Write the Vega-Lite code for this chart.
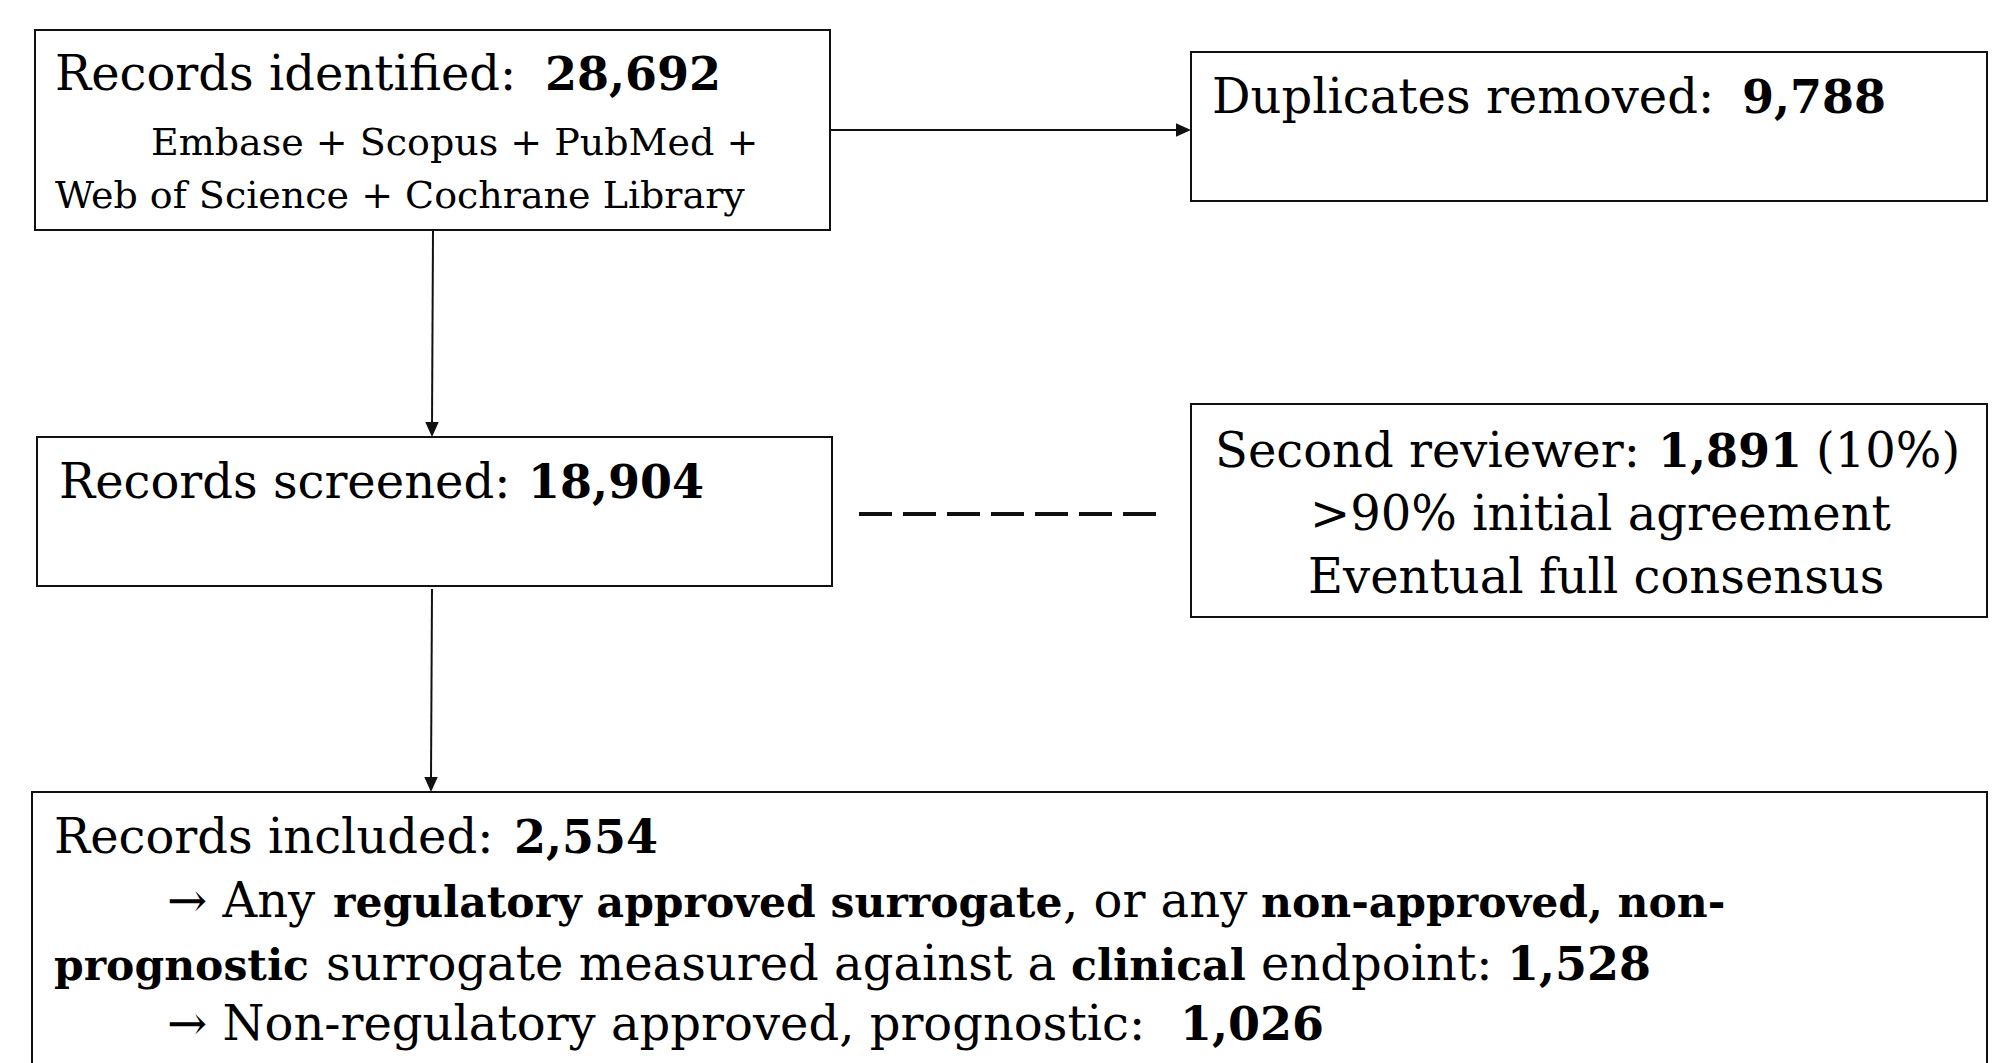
{
  "$schema": "https://vega.github.io/schema/vega-lite/v6.json",
  "width": 2014,
  "height": 1063,
  "autosize": {"type": "fit", "contains": "padding"},
  "padding": 0,
  "background": "white",
  "config": {"view": {"stroke": null}},
  "datasets": {
    "boxes": [
      {"id": "identified", "x0": 35, "x1": 830, "y0": 30, "y1": 230},
      {"id": "duplicates", "x0": 1191, "x1": 1987, "y0": 52, "y1": 201},
      {"id": "screened", "x0": 37, "x1": 832, "y0": 437, "y1": 586},
      {"id": "second", "x0": 1191, "x1": 1987, "y0": 404, "y1": 617},
      {"id": "included", "x0": 32, "x1": 1987, "y0": 792, "y1": 1090}
    ],
    "edges": [
      {"from": "identified", "to": "duplicates", "x0": 830, "x1": 1180, "y0": 130, "y1": 130},
      {"from": "identified", "to": "screened", "x0": 433, "x1": 432, "y0": 230, "y1": 426},
      {"from": "screened", "to": "included", "x0": 432, "x1": 431, "y0": 589, "y1": 781}
    ],
    "dashes": [
      {"from": "screened", "to": "second", "x0": 859, "x1": 1161, "y0": 514, "y1": 514}
    ],
    "heads": [
      {"to": "duplicates", "dir": "right", "x": 1191, "y": 130},
      {"to": "screened", "dir": "down", "x": 432, "y": 437},
      {"to": "included", "dir": "down", "x": 431, "y": 792}
    ],
    "texts": [
      {"box": "identified", "line": 1, "x": 55, "y": 90, "role": "label", "text": "Records identified:"},
      {"box": "identified", "line": 1, "x": 545, "y": 90, "role": "count", "text": "28,692"},
      {"box": "identified", "line": 2, "x": 151, "y": 155, "role": "source", "text": "Embase + Scopus + PubMed +"},
      {"box": "identified", "line": 3, "x": 55, "y": 208, "role": "source", "text": "Web of Science + Cochrane Library"},
      {"box": "duplicates", "line": 1, "x": 1212, "y": 113, "role": "label", "text": "Duplicates removed:"},
      {"box": "duplicates", "line": 1, "x": 1742, "y": 113, "role": "count", "text": "9,788"},
      {"box": "screened", "line": 1, "x": 59, "y": 498, "role": "label", "text": "Records screened:"},
      {"box": "screened", "line": 1, "x": 528, "y": 498, "role": "count", "text": "18,904"},
      {"box": "second", "line": 1, "x": 1215, "y": 467, "role": "label", "text": "Second reviewer:"},
      {"box": "second", "line": 1, "x": 1658, "y": 467, "role": "count", "text": "1,891"},
      {"box": "second", "line": 1, "x": 1816, "y": 467, "role": "label", "text": "(10%)"},
      {"box": "second", "line": 2, "x": 1310, "y": 530, "role": "label", "text": ">90% initial agreement"},
      {"box": "second", "line": 3, "x": 1308, "y": 593, "role": "label", "text": "Eventual full consensus"},
      {"box": "included", "line": 1, "x": 54, "y": 853, "role": "label", "text": "Records included:"},
      {"box": "included", "line": 1, "x": 514, "y": 853, "role": "count", "text": "2,554"},
      {"box": "included", "line": 2, "x": 167, "y": 917, "role": "label", "text": "→ Any"},
      {"box": "included", "line": 2, "x": 333, "y": 917, "role": "emphasis", "text": "regulatory approved surrogate"},
      {"box": "included", "line": 2, "x": 1063, "y": 917, "role": "label", "text": ", or any"},
      {"box": "included", "line": 2, "x": 1261, "y": 917, "role": "emphasis", "text": "non-approved, non-"},
      {"box": "included", "line": 3, "x": 54, "y": 980, "role": "emphasis", "text": "prognostic"},
      {"box": "included", "line": 3, "x": 326, "y": 980, "role": "label", "text": "surrogate measured against a"},
      {"box": "included", "line": 3, "x": 1071, "y": 980, "role": "emphasis", "text": "clinical"},
      {"box": "included", "line": 3, "x": 1261, "y": 980, "role": "label", "text": "endpoint:"},
      {"box": "included", "line": 3, "x": 1507, "y": 980, "role": "count", "text": "1,528"},
      {"box": "included", "line": 4, "x": 167, "y": 1040, "role": "label", "text": "→ Non-regulatory approved, prognostic:"},
      {"box": "included", "line": 4, "x": 1180, "y": 1040, "role": "count", "text": "1,026"}
    ]
  },
  "layer": [
    {
      "data": {"name": "boxes"},
      "mark": {"type": "rect", "fill": "white", "stroke": "#111111", "strokeWidth": 2, "clip": true},
      "encoding": {
        "x": {"field": "x0", "type": "quantitative", "scale": {"domain": [0, 2014], "nice": false, "zero": false}, "axis": null},
        "x2": {"field": "x1"},
        "y": {"field": "y0", "type": "quantitative", "scale": {"domain": [0, 1063], "nice": false, "zero": false, "reverse": true}, "axis": null},
        "y2": {"field": "y1"}
      }
    },
    {
      "data": {"name": "edges"},
      "mark": {"type": "rule", "stroke": "#111111", "strokeWidth": 2},
      "encoding": {
        "x": {"field": "x0", "type": "quantitative", "scale": {"domain": [0, 2014], "nice": false, "zero": false}, "axis": null},
        "x2": {"field": "x1"},
        "y": {"field": "y0", "type": "quantitative", "scale": {"domain": [0, 1063], "nice": false, "zero": false, "reverse": true}, "axis": null},
        "y2": {"field": "y1"}
      }
    },
    {
      "data": {"name": "dashes"},
      "mark": {"type": "rule", "stroke": "#111111", "strokeWidth": 4, "strokeDash": [33, 11]},
      "encoding": {
        "x": {"field": "x0", "type": "quantitative", "scale": {"domain": [0, 2014], "nice": false, "zero": false}, "axis": null},
        "x2": {"field": "x1"},
        "y": {"field": "y0", "type": "quantitative", "scale": {"domain": [0, 1063], "nice": false, "zero": false, "reverse": true}, "axis": null},
        "y2": {"field": "y1"}
      }
    },
    {
      "data": {"name": "heads"},
      "mark": {"type": "point", "filled": true, "fill": "#111111", "strokeWidth": 0, "opacity": 1, "size": 225},
      "encoding": {
        "x": {"field": "x", "type": "quantitative", "scale": {"domain": [0, 2014], "nice": false, "zero": false}, "axis": null},
        "y": {"field": "y", "type": "quantitative", "scale": {"domain": [0, 1063], "nice": false, "zero": false, "reverse": true}, "axis": null},
        "shape": {"field": "dir", "type": "nominal", "scale": {"domain": ["right", "down"], "range": ["M0,0L-2,-0.9L-2,0.9Z", "M0,0L-0.9,-2L0.9,-2Z"]}, "legend": null}
      }
    },
    {
      "data": {"name": "texts"},
      "transform": [{"filter": "datum.role === 'label'"}],
      "mark": {"type": "text", "align": "left", "baseline": "alphabetic", "font": "DejaVu Serif", "fontWeight": "normal", "fontSize": 48, "color": "#000000"},
      "encoding": {
        "x": {"field": "x", "type": "quantitative", "scale": {"domain": [0, 2014], "nice": false, "zero": false}, "axis": null},
        "y": {"field": "y", "type": "quantitative", "scale": {"domain": [0, 1063], "nice": false, "zero": false, "reverse": true}, "axis": null},
        "text": {"field": "text"}
      }
    },
    {
      "data": {"name": "texts"},
      "transform": [{"filter": "datum.role === 'source'"}],
      "mark": {"type": "text", "align": "left", "baseline": "alphabetic", "font": "DejaVu Serif", "fontWeight": "normal", "fontSize": 38, "color": "#000000"},
      "encoding": {
        "x": {"field": "x", "type": "quantitative", "scale": {"domain": [0, 2014], "nice": false, "zero": false}, "axis": null},
        "y": {"field": "y", "type": "quantitative", "scale": {"domain": [0, 1063], "nice": false, "zero": false, "reverse": true}, "axis": null},
        "text": {"field": "text"}
      }
    },
    {
      "data": {"name": "texts"},
      "transform": [{"filter": "datum.role === 'emphasis'"}],
      "mark": {"type": "text", "align": "left", "baseline": "alphabetic", "font": "DejaVu Serif", "fontWeight": "bold", "fontSize": 42.5, "color": "#000000"},
      "encoding": {
        "x": {"field": "x", "type": "quantitative", "scale": {"domain": [0, 2014], "nice": false, "zero": false}, "axis": null},
        "y": {"field": "y", "type": "quantitative", "scale": {"domain": [0, 1063], "nice": false, "zero": false, "reverse": true}, "axis": null},
        "text": {"field": "text"}
      }
    },
    {
      "data": {"name": "texts"},
      "transform": [{"filter": "datum.role === 'count'"}],
      "mark": {"type": "text", "align": "left", "baseline": "alphabetic", "font": "DejaVu Serif", "fontWeight": "bold", "fontSize": 46, "color": "#000000"},
      "encoding": {
        "x": {"field": "x", "type": "quantitative", "scale": {"domain": [0, 2014], "nice": false, "zero": false}, "axis": null},
        "y": {"field": "y", "type": "quantitative", "scale": {"domain": [0, 1063], "nice": false, "zero": false, "reverse": true}, "axis": null},
        "text": {"field": "text"}
      }
    }
  ]
}
